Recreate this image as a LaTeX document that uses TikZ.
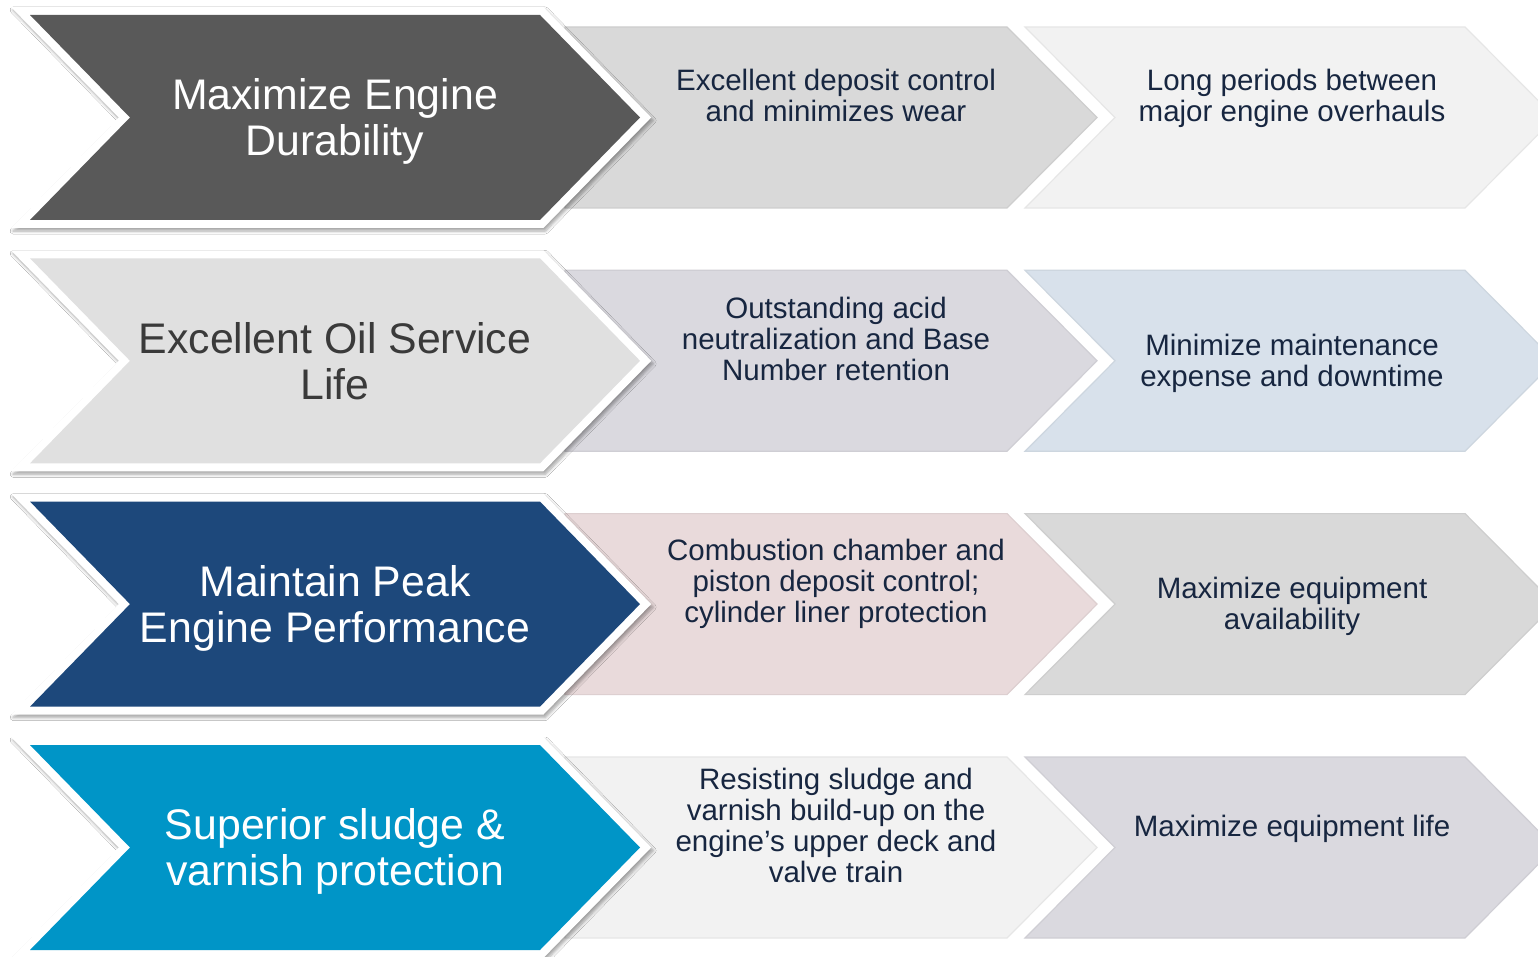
\documentclass[tikz,border=0pt]{standalone}
\usepackage{fontspec}
\setmainfont{Liberation Sans}
\usetikzlibrary{shadows.blur}

\definecolor{durgray}{HTML}{595959}
\definecolor{oilgray}{HTML}{E0E0E0}
\definecolor{peakblue}{HTML}{1D487B}
\definecolor{sludgeblue}{HTML}{0095C7}
\definecolor{stepgray}{HTML}{D9D9D9}
\definecolor{steplight}{HTML}{F2F2F2}
\definecolor{steplilac}{HTML}{DAD9DF}
\definecolor{stepsky}{HTML}{D8E1EB}
\definecolor{steprose}{HTML}{E9DADB}
\definecolor{inknavy}{HTML}{172640}
\definecolor{inkgray}{HTML}{3A3A3A}

\begin{document}
\begin{tikzpicture}[x=1pt,y=-1pt,
    bigtext/.style={align=center,font=\fontsize{42.8}{46}\selectfont},
    smalltext/.style={align=center,text=inknavy,font=\fontsize{29.5}{31}\selectfont},
    rim/.style={blur shadow={shadow xshift=2pt,shadow yshift=-3pt,
        shadow opacity=35,shadow blur radius=3pt,shadow blur steps=6}}]
  \useasboundingbox (0,0) rectangle (1538,957);
  \clip (0,0) rectangle (1538,957);
  \fill[white] (0,0) rectangle (1538,957);

  % chevrons, one row at a time
  \foreach \t/\fa/\fb/\fc in {15/durgray/stepgray/steplight,
      258.3/oilgray/steplilac/stepsky,
      501.6/peakblue/steprose/stepgray,
      745/sludgeblue/steplight/steplilac}
  {
    \pgfmathsetmacro{\cy}{\t+102.5}
    \filldraw[fill=\fc,draw=\fc!95!black,line width=1.2pt]
      (1025,\cy-90.5) -- (1465,\cy-90.5) -- (1555,\cy) -- (1465,\cy+90.5)
      -- (1025,\cy+90.5) -- (1115,\cy) -- cycle;
    \filldraw[fill=\fb,draw=\fb!95!black,line width=1.2pt]
      (565,\cy-90.5) -- (1007,\cy-90.5) -- (1097,\cy) -- (1007,\cy+90.5)
      -- (565,\cy+90.5) -- cycle;
    \fill[white,rim]
      (11,\t-8) -- (543.4,\t-8) -- (651.2,\cy) -- (543.4,\t+213)
      -- (11,\t+213) -- (118.8,\cy) -- cycle;
    \fill[\fa]
      (30,\t) -- (540,\t) -- (640,\cy) -- (540,\t+205)
      -- (30,\t+205) -- (130,\cy) -- cycle;
  }

  % row 1
  \node[bigtext,text=white] (durability) at (335,121.5) {Maximize Engine\\Durability};
  \node[smalltext] (deposit) at (836,95.5) {Excellent deposit control\\and minimizes wear};
  \node[smalltext] (overhaul) at (1292,98.5) {Long periods between\\major engine overhauls};

  % row 2
  \node[bigtext,text=inkgray] (service) at (335,360.8) {Excellent Oil Service\\Life};
  \node[smalltext] (acid) at (836,338.5) {Outstanding acid\\neutralization and Base\\Number retention};
  \node[smalltext] (downtime) at (1292,363.5) {Minimize maintenance\\expense and downtime};

  % row 3
  \node[bigtext,text=white] (peak) at (335,608) {Maintain Peak\\Engine Performance};
  \node[smalltext] (piston) at (836,584) {Combustion chamber and\\piston deposit control;\\cylinder liner protection};
  \node[smalltext] (availability) at (1292,606.5) {Maximize equipment\\availability};

  % row 4
  \node[bigtext,text=white] (sludge) at (335,851.5) {Superior sludge \&\\varnish protection};
  \node[smalltext] (varnish) at (836,825.5) {Resisting sludge and\\varnish build-up on the\\engine’s upper deck and\\valve train};
  \node[smalltext] (life) at (1292,829) {Maximize equipment life};
\end{tikzpicture}
\end{document}
